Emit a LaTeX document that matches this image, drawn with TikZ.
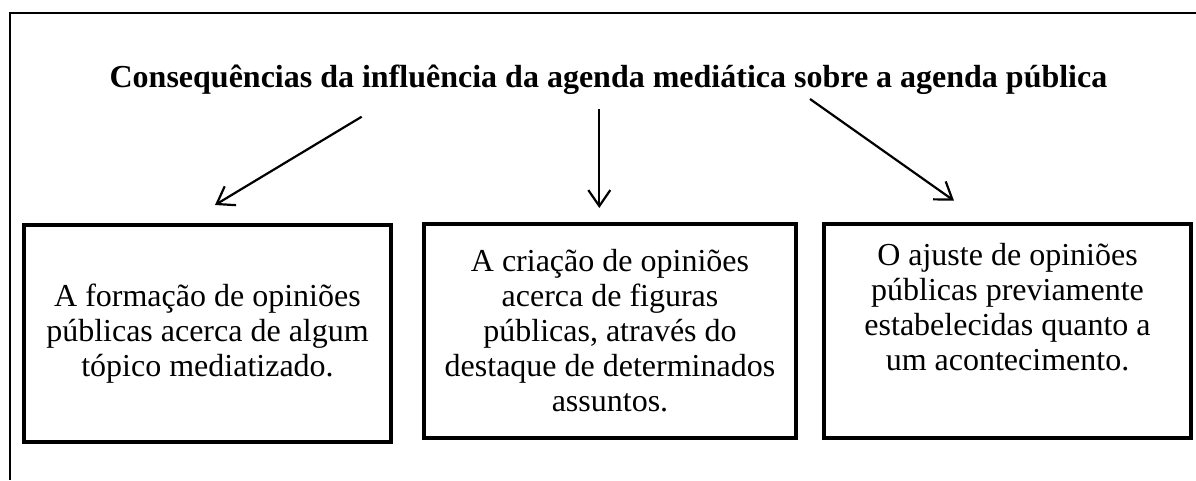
\documentclass[tikz,border=0pt]{standalone}
\usepackage{fontspec}
\setmainfont{Liberation Serif}
\usetikzlibrary{arrows.meta,positioning}

\begin{document}
\begin{tikzpicture}[x = 1pt, y = 1pt,
  caixa/.style = {draw, line width = 4.4pt, inner sep = 0pt, align = center, font = \fontsize{32}{35}\selectfont},
  seta/.style = {-{Straight Barb[length = 16pt, width = 22pt]}, line width = 2.2pt}]
  \useasboundingbox (0,0) rectangle (1196,-480);
  \draw[line width = 1.3pt] (1196,-13) -- (10,-13) -- (10,-480);
  \node[anchor = base, font = \fontsize{32}{38}\selectfont\bfseries] (t) at (608.5,-87) {Consequências da influência da agenda mediática sobre a agenda pública};
  \node[caixa, minimum width = 367pt, minimum height = 217pt] (a) at (207.5,-333.5) {A formação de opiniões\\públicas acerca de algum\\tópico mediatizado.};
  \node[caixa, minimum width = 372pt, minimum height = 214pt] (b) at (610,-331) {A criação de opiniões\\acerca de figuras\\públicas, através do\\destaque de determinados\\assuntos.};
  \node[caixa, minimum width = 367pt, minimum height = 214pt] (c) at (1007.5,-331) {};
  \node[below = 21pt of c.north, align = center, inner sep = 0pt, font = \fontsize{32}{35}\selectfont] (ct) {O ajuste de opiniões\\públicas previamente\\estabelecidas quanto a\\um acontecimento.};
  \coordinate (a0) at (361.7,-116.7);
  \coordinate (a1) at (215,-205);
  \coordinate (b0) at (599.3,-109);
  \coordinate (b1) at (599.3,-208);
  \coordinate (c0) at (810,-99);
  \coordinate (c1) at (954,-200.7);
  \draw[seta] (a0) -- (a1);
  \draw[seta] (b0) -- (b1);
  \draw[seta] (c0) -- (c1);
\end{tikzpicture}
\end{document}
